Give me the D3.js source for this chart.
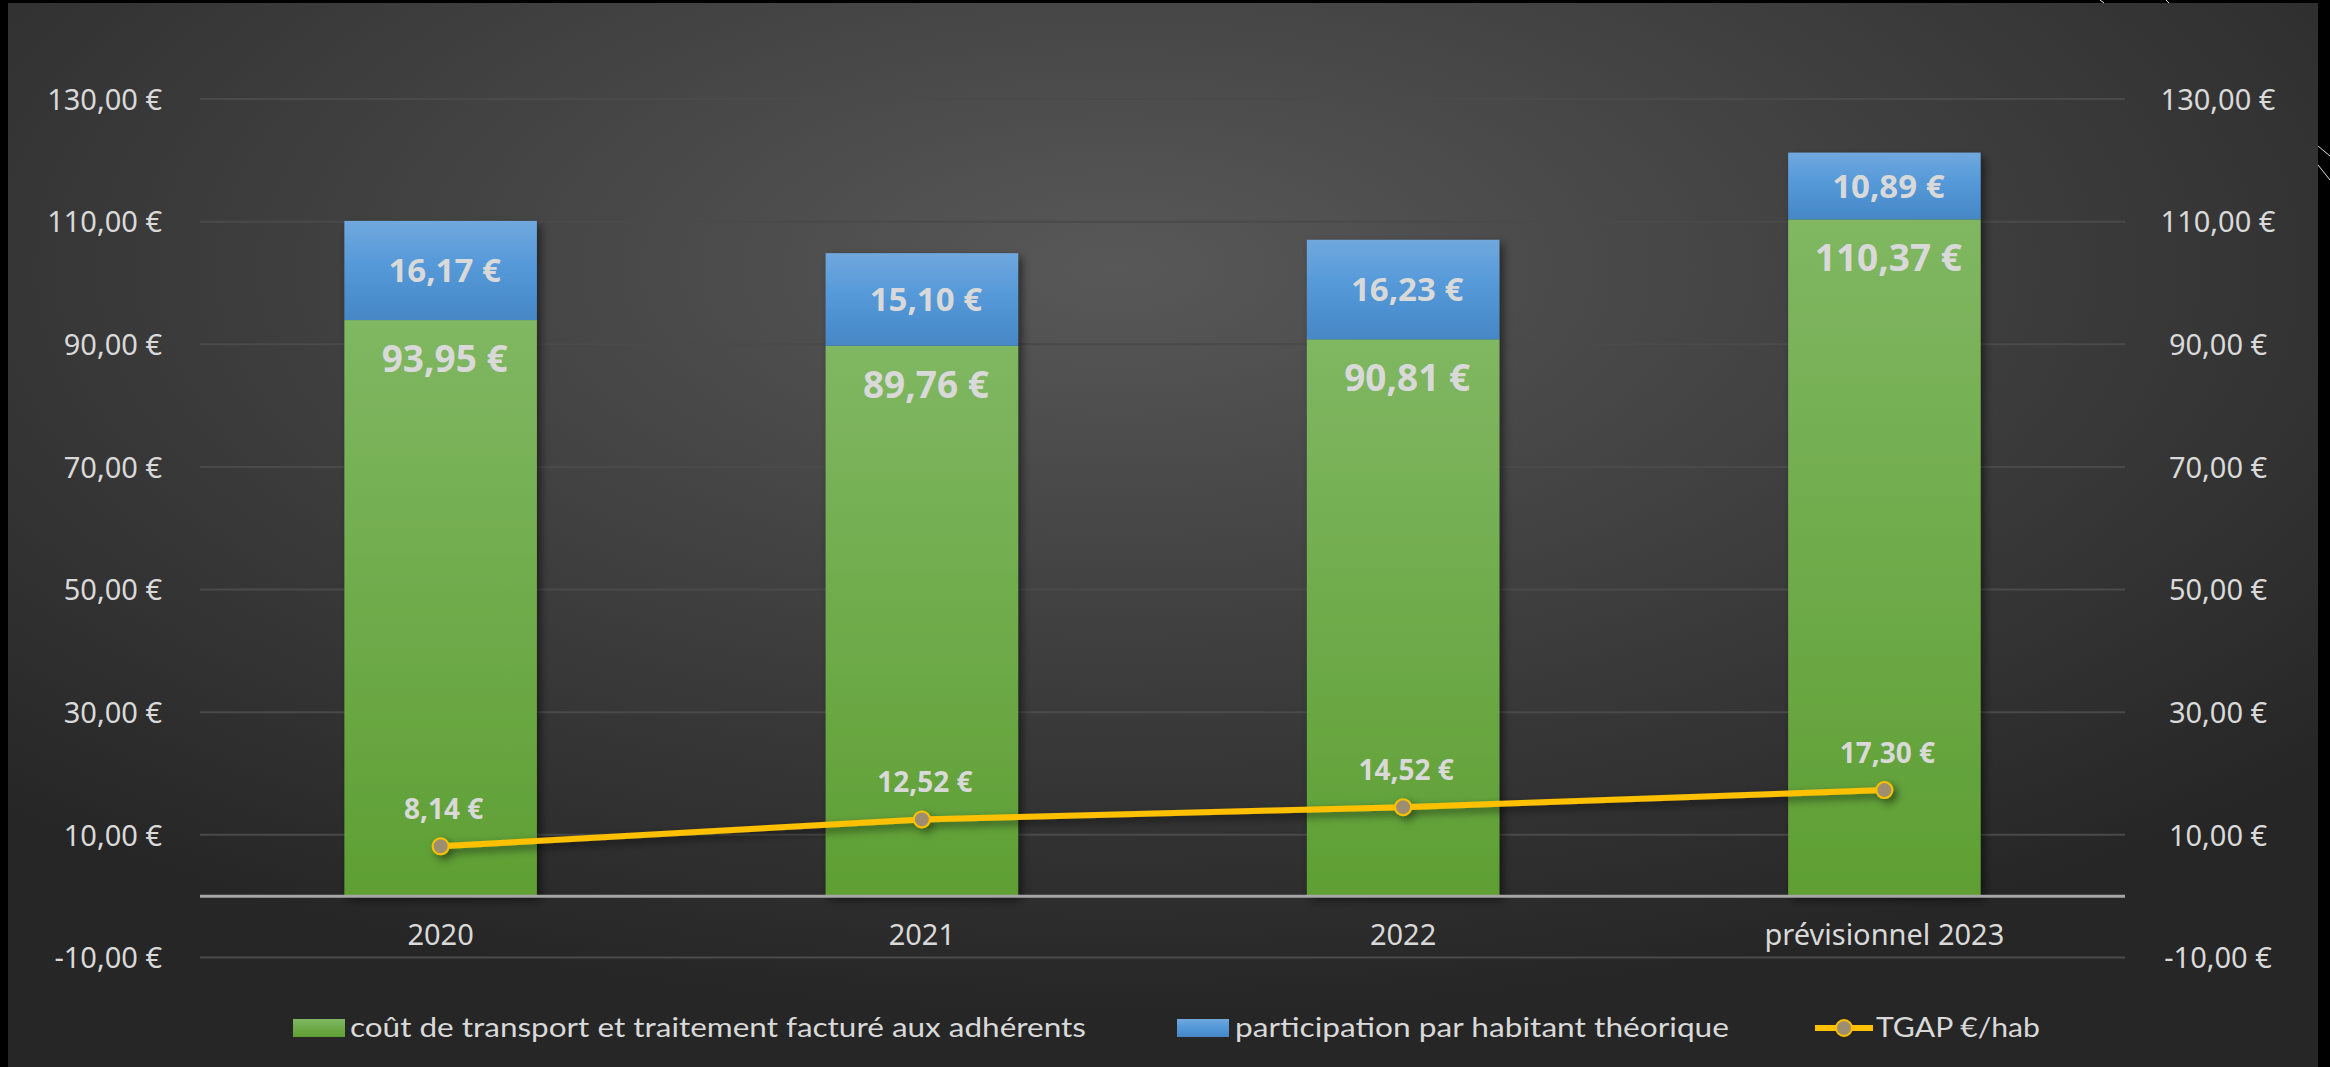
<!DOCTYPE html>
<html>
<head>
<meta charset="utf-8">
<script src="https://cdn.jsdelivr.net/npm/d3@7"></script>
<style>
  html, body { margin: 0; padding: 0; background: #000; }
  svg { display: block; }
</style>
</head>
<body>
<svg id="vis" width="2330" height="1067"></svg>
<script>
// chart data
var categories = ["2020", "2021", "2022", "prévisionnel 2023"];
var coutValues = [93.95, 89.76, 90.81, 110.37];
var participationValues = [16.17, 15.10, 16.23, 10.89];
var tgapValues = [8.14, 12.52, 14.52, 17.30];
var yTicks = [-10, 10, 30, 50, 70, 90, 110, 130];
var legendLabels = ["coût de transport et traitement facturé aux adhérents", "participation par habitant théorique", "TGAP €/hab"];

const W = 2330, H = 1067;
const PLOT = { left: 200, right: 2125, top: 99, bottom: 957.5 };
const TXT = "#d9d9d9";

var fmt = function(v){
    return v.toFixed(2).replace(".", ",") + " €";
};

var svg = d3.select("#vis");
var defs = svg.append("defs");

// background
var bg = defs.append("radialGradient").attr("id", "bgGrad")
    .attr("cx", "48%").attr("cy", "25%").attr("r", "70%");
bg.append("stop").attr("offset", "0%").attr("stop-color", "#585858");
bg.append("stop").attr("offset", "100%").attr("stop-color", "#262626");

var gGreen = defs.append("linearGradient").attr("id", "greenGrad")
    .attr("x1", 0).attr("y1", 0).attr("x2", 0).attr("y2", 1);
gGreen.append("stop").attr("offset", "0%").attr("stop-color", "#80b762");
gGreen.append("stop").attr("offset", "100%").attr("stop-color", "#5e9f33");

var gBlue = defs.append("linearGradient").attr("id", "blueGrad")
    .attr("x1", 0).attr("y1", 0).attr("x2", 0).attr("y2", 1);
gBlue.append("stop").attr("offset", "0%").attr("stop-color", "#70a8de");
gBlue.append("stop").attr("offset", "45%").attr("stop-color", "#5599d9");
gBlue.append("stop").attr("offset", "100%").attr("stop-color", "#4687c6");

var shadow = defs.append("filter").attr("id", "shadow")
    .attr("x", "-20%").attr("y", "-20%").attr("width", "140%").attr("height", "140%");
shadow.append("feDropShadow").attr("dx", 4).attr("dy", 4).attr("stdDeviation", 4)
    .attr("flood-color", "#000").attr("flood-opacity", 0.5);

svg.append("rect").attr("x", 0).attr("y", 0).attr("width", W).attr("height", H).attr("fill", "#000");
svg.append("rect").attr("x", 8).attr("y", 3).attr("width", 2310).attr("height", H - 3).attr("fill", "url(#bgGrad)");

// stray slide lines in the black margin
var strays = [[2100, 0, 2104, 3], [2166, 0, 2169, 3], [2318, 146, 2330, 156], [2318, 165, 2330, 180]];
svg.selectAll("line.stray").data(strays).enter().append("line")
    .attr("class", "stray")
    .attr("x1", function(d){ return d[0]; }).attr("y1", function(d){ return d[1]; })
    .attr("x2", function(d){ return d[2]; }).attr("y2", function(d){ return d[3]; })
    .attr("stroke", "#ddd").attr("stroke-width", 1);

// scales
var x = d3.scaleBand().domain(categories).range([PLOT.left, PLOT.right])
    .paddingInner(0.6).paddingOuter(0.3);
var y = d3.scaleLinear().domain([-10, 130]).range([PLOT.bottom, PLOT.top]);

// gridlines
svg.append("g").selectAll("line").data(yTicks).enter().append("line")
    .attr("x1", PLOT.left).attr("x2", PLOT.right)
    .attr("y1", function(d){ return y(d); }).attr("y2", function(d){ return y(d); })
    .attr("stroke", "#4a4a4a").attr("stroke-width", 2);

// left axis
var leftAxis = d3.axisLeft(y).tickValues(yTicks).tickSize(0).tickPadding(0).tickFormat(fmt);
var gl = svg.append("g").attr("transform", "translate(162,0)").call(leftAxis);
gl.select(".domain").remove();
gl.selectAll("text").attr("fill", TXT).style("font-family", "'Noto Sans', sans-serif")
    .style("font-size", "29px").attr("dy", "0.35em");

// right axis (labels centered)
var rightAxis = d3.axisRight(y).tickValues(yTicks).tickSize(0).tickPadding(0).tickFormat(fmt);
var gr = svg.append("g").attr("transform", "translate(2218,0)").call(rightAxis);
gr.select(".domain").remove();
gr.selectAll("text").attr("fill", TXT).attr("text-anchor", "middle")
    .style("font-family", "'Noto Sans', sans-serif").style("font-size", "29px").attr("dy", "0.35em");

// bars
var bars = svg.append("g").attr("filter", "url(#shadow)");
bars.selectAll("rect.cout").data(coutValues).enter().append("rect")
    .attr("class", "cout")
    .attr("x", function(d, i){ return x(categories[i]); })
    .attr("width", x.bandwidth())
    .attr("y", function(d){ return y(d); })
    .attr("height", function(d){ return y(0) - y(d); })
    .attr("fill", "url(#greenGrad)");
bars.selectAll("rect.part").data(participationValues).enter().append("rect")
    .attr("class", "part")
    .attr("x", function(d, i){ return x(categories[i]); })
    .attr("width", x.bandwidth())
    .attr("y", function(d, i){ return y(coutValues[i] + d); })
    .attr("height", function(d, i){ return y(coutValues[i]) - y(coutValues[i] + d); })
    .attr("fill", "url(#blueGrad)");

// zero line
svg.append("line").attr("x1", PLOT.left).attr("x2", PLOT.right)
    .attr("y1", y(0)).attr("y2", y(0))
    .attr("stroke", "#a6a6a6").attr("stroke-width", 3);

// bar labels
var lblFont = "'Open Sans', 'Noto Sans', sans-serif";
svg.append("g").selectAll("text").data(participationValues).enter().append("text")
    .attr("x", function(d, i){ return x(categories[i]) + x.bandwidth() / 2 + 4; })
    .attr("y", function(d, i){ return (y(coutValues[i]) + y(coutValues[i] + d)) / 2; })
    .attr("dy", "0.36em").attr("text-anchor", "middle")
    .attr("fill", TXT).style("font-family", lblFont).style("font-weight", "bold").style("font-size", "33px")
    .text(fmt);
svg.append("g").selectAll("text").data(coutValues).enter().append("text")
    .attr("x", function(d, i){ return x(categories[i]) + x.bandwidth() / 2 + 4; })
    .attr("y", function(d){ return y(d) + 52; })
    .attr("text-anchor", "middle")
    .attr("fill", TXT).style("font-family", lblFont).style("font-weight", "bold").style("font-size", "37px")
    .text(fmt);

// TGAP line
var cx = function(i){ return x(categories[i]) + x.bandwidth() / 2; };
var line = d3.line().x(function(d, i){ return cx(i); }).y(function(d){ return y(d); });
var lg = svg.append("g").attr("filter", "url(#shadow)");
lg.append("path").datum(tgapValues).attr("d", line)
    .attr("fill", "none").attr("stroke", "#ffc000").attr("stroke-width", 6);
lg.selectAll("circle").data(tgapValues).enter().append("circle")
    .attr("cx", function(d, i){ return cx(i); }).attr("cy", function(d){ return y(d); })
    .attr("r", 8).attr("fill", "#9d8e72").attr("stroke", "#ffc000").attr("stroke-width", 2);
svg.append("g").selectAll("text").data(tgapValues).enter().append("text")
    .attr("x", function(d, i){ return cx(i) + 3; })
    .attr("y", function(d){ return y(d) - 27; })
    .attr("text-anchor", "middle")
    .attr("fill", TXT).style("font-family", lblFont).style("font-weight", "bold").style("font-size", "28px")
    .text(fmt);

// category labels
svg.append("g").selectAll("text").data(categories).enter().append("text")
    .attr("x", function(d){ return x(d) + x.bandwidth() / 2; })
    .attr("y", 945).attr("text-anchor", "middle")
    .attr("fill", TXT).style("font-family", "'Noto Sans', sans-serif").style("font-size", "29px")
    .text(function(d){ return d; });

// legend
var legFont = "Lato, sans-serif";
var leg = svg.append("g");
leg.append("rect").attr("x", 293).attr("y", 1019).attr("width", 52).attr("height", 18).attr("fill", "url(#greenGrad)");
leg.append("text").attr("x", 350).attr("y", 1037).attr("textLength", 736).attr("lengthAdjust", "spacingAndGlyphs")
    .attr("fill", TXT).style("font-family", legFont).style("font-size", "27px").text(legendLabels[0]);
leg.append("rect").attr("x", 1177).attr("y", 1019).attr("width", 52).attr("height", 18).attr("fill", "url(#blueGrad)");
leg.append("text").attr("x", 1235).attr("y", 1037).attr("textLength", 494).attr("lengthAdjust", "spacingAndGlyphs")
    .attr("fill", TXT).style("font-family", legFont).style("font-size", "27px").text(legendLabels[1]);
leg.append("line").attr("x1", 1815).attr("x2", 1873).attr("y1", 1028).attr("y2", 1028)
    .attr("stroke", "#ffc000").attr("stroke-width", 6);
leg.append("circle").attr("cx", 1844).attr("cy", 1028).attr("r", 8)
    .attr("fill", "#9d8e72").attr("stroke", "#ffc000").attr("stroke-width", 2);
leg.append("text").attr("x", 1876).attr("y", 1037).attr("textLength", 164).attr("lengthAdjust", "spacingAndGlyphs")
    .attr("fill", TXT).style("font-family", legFont).style("font-size", "27px").text(legendLabels[2]);
</script>
</body>
</html>
